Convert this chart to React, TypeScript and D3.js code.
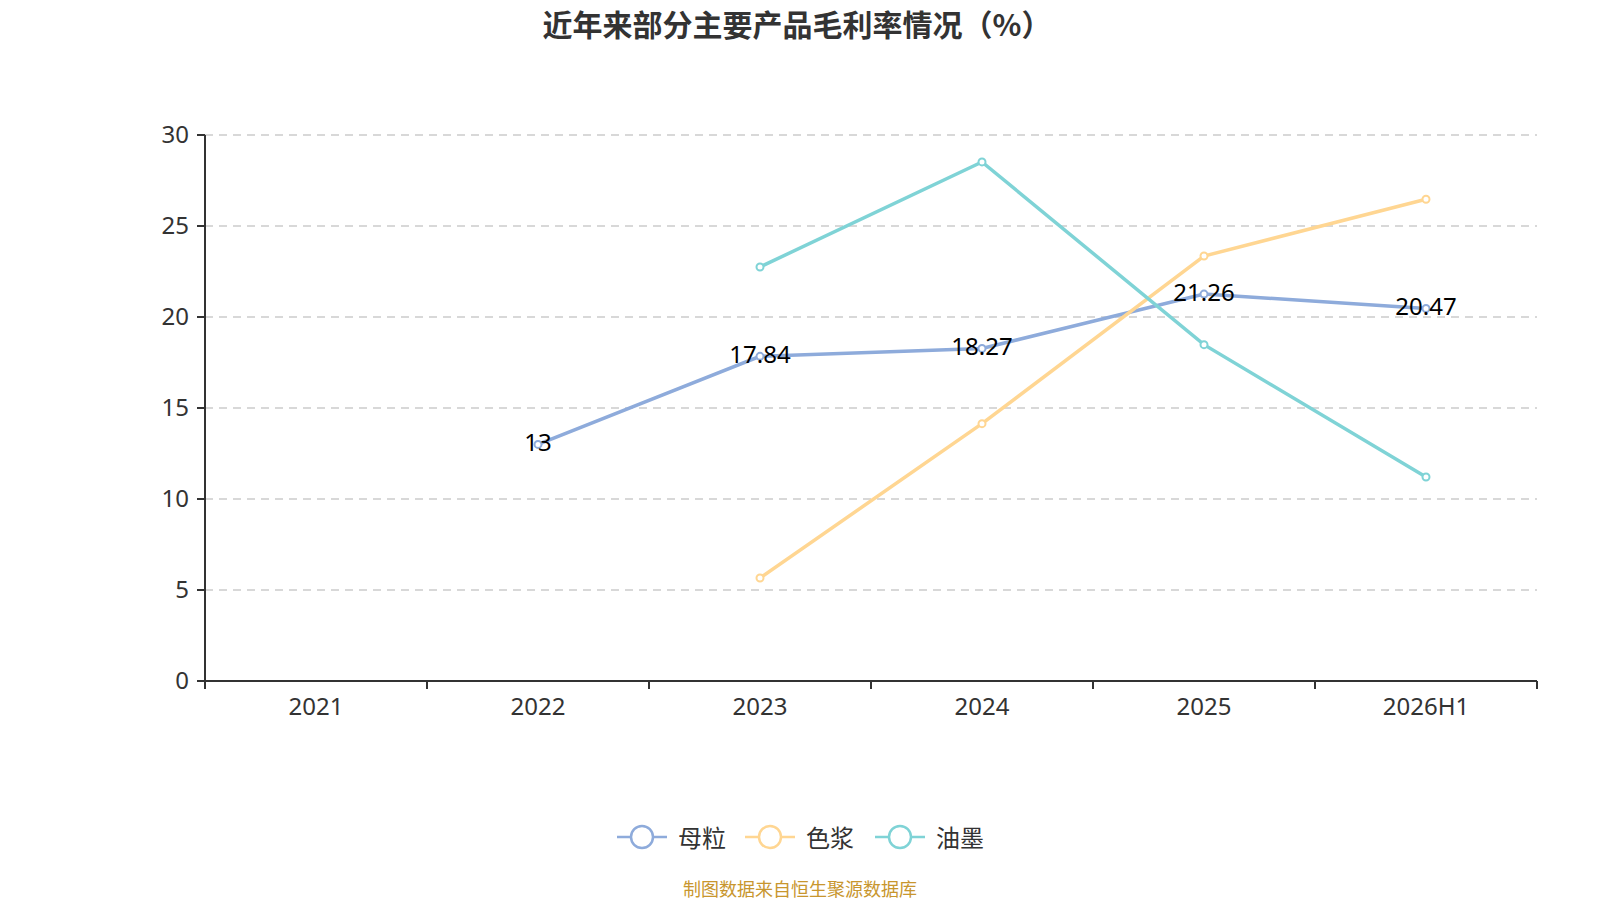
import React from "react";
import * as d3 from "d3";

const categories = ["2021", "2022", "2023", "2024", "2025", "2026H1"];
const seriesNames = ["母粒", "色浆", "油墨"];
const mulizhi: (number | null)[] = [null, 13, 17.84, 18.27, 21.26, 20.47];
const sejiang: (number | null)[] = [null, null, 5.66, 14.14, 23.35, 26.47];
const youmo: (number | null)[] = [null, null, 22.75, 28.52, 18.48, 11.21];
const yTicks = [0, 5, 10, 15, 20, 25, 30];
const colors = ["#8eabdb", "#ffd692", "#7fd3d6"];
const title = "近年来部分主要产品毛利率情况（%）";
const source = "制图数据来自恒生聚源数据库";

const W = 1600;
const H = 900;
const left = 205;
const right = 1537;
const top = 135;
const bottom = 681;
const FONT = "'Noto Sans', 'Noto Sans CJK SC', sans-serif";

export default function App() {
  const x = d3.scaleBand<string>().domain(categories).range([left, right]);
  const y = d3.scaleLinear().domain([0, 30]).range([bottom, top]);
  const cx = (c: string) => (x(c) as number) + x.bandwidth() / 2;
  const allSeries = [mulizhi, sejiang, youmo];
  const line = d3
    .line<[string, number | null]>()
    .defined((d) => d[1] !== null)
    .x((d) => cx(d[0]))
    .y((d) => y(d[1] as number));

  const legendX = [642, 770, 900];
  const legendY = 837;

  return (
    <svg
      width={W}
      height={H}
      style={{ position: "absolute", left: 0, top: 0, background: "#fff" }}
      fontFamily={FONT}
    >
      <text
        x={797}
        y={23}
        textAnchor="middle"
        dominantBaseline="central"
        fontSize={30}
        fontWeight="bold"
        fill="#333"
        fontFamily="'Noto Sans CJK SC', sans-serif"
      >
        {title}
      </text>

      {yTicks.map((t) => (
        <g key={t}>
          {t > 0 && (
            <line
              x1={left}
              x2={right}
              y1={y(t)}
              y2={y(t)}
              stroke="#ccc"
              strokeWidth={1.5}
              strokeDasharray="8 6"
            />
          )}
          <line x1={left - 8} x2={left} y1={y(t)} y2={y(t)} stroke="#333" strokeWidth={2} />
          <text
            x={left - 16}
            y={y(t) - 2}
            textAnchor="end"
            dominantBaseline="central"
            fontSize={24}
            fill="#333"
          >
            {t}
          </text>
        </g>
      ))}
      <line x1={left} x2={left} y1={top} y2={bottom} stroke="#333" strokeWidth={2} />
      <line x1={left} x2={right} y1={bottom} y2={bottom} stroke="#333" strokeWidth={2} />
      {categories.map((c, i) => (
        <line
          key={"t" + c}
          x1={left + i * x.bandwidth()}
          x2={left + i * x.bandwidth()}
          y1={bottom}
          y2={bottom + 8}
          stroke="#333"
          strokeWidth={2}
        />
      ))}
      <line x1={right} x2={right} y1={bottom} y2={bottom + 8} stroke="#333" strokeWidth={2} />
      {categories.map((c) => (
        <text
          key={c}
          x={cx(c)}
          y={bottom + 24}
          textAnchor="middle"
          dominantBaseline="central"
          fontSize={24}
          fill="#333"
        >
          {c}
        </text>
      ))}

      {allSeries.map((s, si) => {
        const pts = categories.map((c, i) => [c, s[i]] as [string, number | null]);
        return (
          <g key={si}>
            <path d={line(pts) || ""} fill="none" stroke={colors[si]} strokeWidth={3.5} />
            {pts
              .filter((p) => p[1] !== null)
              .map((p) => (
                <circle
                  key={p[0]}
                  cx={cx(p[0])}
                  cy={y(p[1] as number)}
                  r={3.5}
                  fill="#fff"
                  stroke={colors[si]}
                  strokeWidth={2}
                />
              ))}
          </g>
        );
      })}

      {categories.map((c, i) =>
        mulizhi[i] !== null ? (
          <text
            key={"l" + c}
            x={cx(c)}
            y={y(mulizhi[i] as number) - 3}
            textAnchor="middle"
            dominantBaseline="central"
            fontSize={24}
            fill="#000"
          >
            {String(mulizhi[i])}
          </text>
        ) : null
      )}

      {seriesNames.map((n, i) => (
        <g key={n}>
          <line
            x1={legendX[i] - 25}
            x2={legendX[i] + 25}
            y1={legendY}
            y2={legendY}
            stroke={colors[i]}
            strokeWidth={2.5}
          />
          <circle cx={legendX[i]} cy={legendY} r={11} fill="#fff" stroke={colors[i]} strokeWidth={2.5} />
          <text
            x={legendX[i] + 36}
            y={legendY}
            dominantBaseline="central"
            fontSize={24}
            fill="#333"
          >
            {n}
          </text>
        </g>
      ))}

      <text
        x={800}
        y={889}
        textAnchor="middle"
        dominantBaseline="central"
        fontSize={18}
        fill="#c8962e"
      >
        {source}
      </text>
    </svg>
  );
}
